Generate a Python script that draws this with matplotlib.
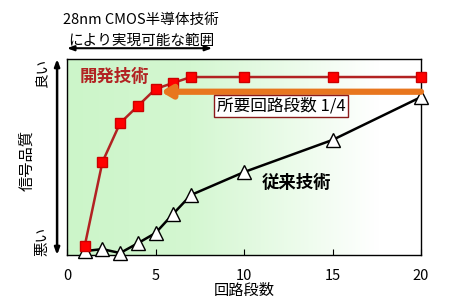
import matplotlib
matplotlib.use("Agg")
import matplotlib.pyplot as plt
import numpy as np
from matplotlib.colors import LinearSegmentedColormap

plt.rcParams['font.family'] = ['Noto Sans CJK JP', 'DejaVu Sans']

# data (signal quality, 0 = bad, 100 = good)
new_x = [1, 2, 3, 4, 5, 6, 7, 10, 15, 20]
new_y = [4.6, 47.4, 67.3, 76, 84.7, 87.8, 90.8, 90.8, 90.8, 90.8]
old_x = [1, 2, 3, 4, 5, 6, 7, 10, 15, 20]
old_y = [2, 3, 1, 6, 11.2, 21, 30.6, 42.3, 58.7, 80.6]
xticks = [0, 5, 10, 15, 20]

fig = plt.figure(figsize=(4.65, 3.01), dpi=100)
ax = fig.add_axes([67/465, 1-255/301, 354/465, 196/301])
ax.set_xlim(0, 20)
ax.set_ylim(0, 100)

# green -> white background
cmap = LinearSegmentedColormap.from_list('g', [(0, '#ccf5c9'), (0.35, '#d4f7d1'),
                                              (0.88, '#ffffff'), (1, '#ffffff')])
grad = np.linspace(0, 1, 256).reshape(1, -1)
ax.imshow(grad, extent=[0, 20, 0, 100], aspect='auto', cmap=cmap, zorder=0)

ax.plot(old_x, old_y, color='black', lw=1.8, marker='^', ms=10,
        mfc='white', mec='black', mew=1, zorder=3, clip_on=False)
ax.plot(new_x, new_y, color='#b22222', lw=1.8, marker='s', ms=7,
        mfc='#ff0000', mec='#cc0000', zorder=4, clip_on=False)

# orange arrow
ax.annotate('', xy=(5.3, 83.3), xytext=(20, 83.3),
            arrowprops=dict(arrowstyle='-|>,head_length=0.6,head_width=0.35',
                            color='#e8761e', lw=4.5, shrinkA=0, shrinkB=0), zorder=5)

ax.text(8.45, 76, '所要回路段数 1/4', fontsize=12, ha='left', va='center',
        bbox=dict(boxstyle='square,pad=0.15', fc='white', ec='#8b1a1a', lw=1), zorder=6)
ax.text(0.7, 91, '開発技術', fontsize=12.5, fontweight='bold', color='#b22222',
        ha='left', va='center', zorder=6)
ax.text(11.0, 36.7, '従来技術', fontsize=12.5, fontweight='bold', color='black',
        ha='left', va='center', zorder=6)

ax.set_xticks(xticks)
ax.set_yticks([])
ax.tick_params(axis='x', direction='in', length=4, labelsize=10.5, pad=10)
ax.set_xlabel('回路段数', fontsize=11, labelpad=-1)
for s in ax.spines.values():
    s.set_linewidth(1)

tr = ax.get_xaxis_transform()  # x in data, y in axes fraction

# top annotation
ax.text(4.2, 1.2, '28nm CMOS半導体技術', transform=tr,
        fontsize=10.5, ha='center', va='center')
ax.text(4.2, 1.095, 'により実現可能な範囲', transform=tr,
        fontsize=10.5, ha='center', va='center')
ax.annotate('', xy=(0, 1.055), xytext=(8.2, 1.055), xycoords=tr,
            arrowprops=dict(arrowstyle='<|-|>,head_length=0.4,head_width=0.15',
                            color='black', lw=1.5, shrinkA=0, shrinkB=0))

# y axis arrow and labels
ax.annotate('', xy=(-0.56, 1.0), xytext=(-0.56, 0.0), xycoords=tr,
            arrowprops=dict(arrowstyle='<|-|>,head_length=0.4,head_width=0.15',
                            color='black', lw=1.8, shrinkA=0, shrinkB=0))
ax.text(-1.4, 0.93, '良い', transform=tr, rotation=90,
        fontsize=10.5, ha='center', va='center')
ax.text(-1.4, 0.07, '悪い', transform=tr, rotation=90,
        fontsize=10.5, ha='center', va='center')
ax.text(-2.26, 0.48, '信号品質', transform=tr, rotation=90,
        fontsize=11, ha='center', va='center')

fig.savefig('out.png', dpi=100)
